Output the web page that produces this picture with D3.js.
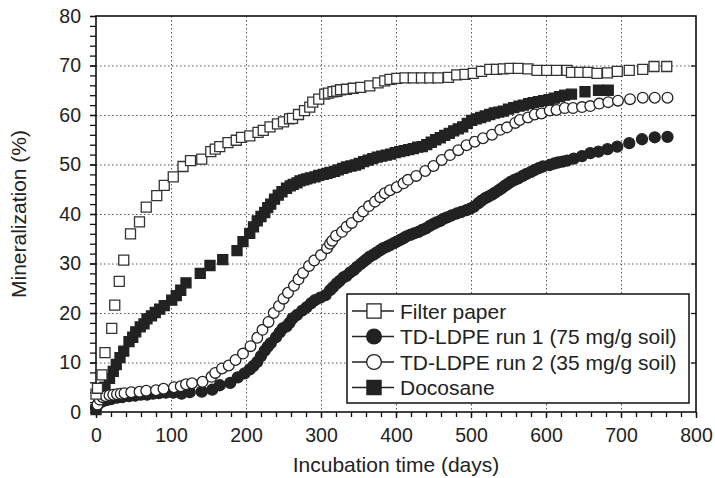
<!DOCTYPE html>
<html><head><meta charset="utf-8">
<script src="https://cdn.jsdelivr.net/npm/d3@7/dist/d3.min.js"></script>
<style>
html,body{margin:0;padding:0;background:#fff;}
text{font-family:"Liberation Sans",Arial,Helvetica,sans-serif;fill:#222;}
</style></head>
<body><svg id="c" width="715" height="478"></svg>
<script>
const xTicks=[0,100,200,300,400,500,600,700,800];
const yTicks=[0,10,20,30,40,50,60,70,80];
const xLabel="Incubation time (days)";
const yLabel="Mineralization (%)";
const seriesNames=["Filter paper","TD-LDPE run 1 (75 mg/g soil)","TD-LDPE run 2 (35 mg/g soil)","Docosane"];

const filterPaper=[[0,3.6],[2,4.8],[8,7.5],[12,12.0],[21,16.9],[25,21.6],[31,26.4],[37,30.7],[46,36],[58,38.4],[67,41.4],[81,43.7],[91,45.8],[103,47.5],[116,49.6],[126,50.8],[141,51.1],[153,52.6],[159,53.1],[165,53.6],[176,54.4],[187,54.9],[194,55.5],[205,55.8],[216,56.5],[223,56.9],[232,57.6],[242,58.2],[250,58.6],[258,59.2],[262,59.3],[270,60.1],[278,60.9],[285,61.6],[289,62.6],[297,63.2],[305,64.2],[310,64.4],[316,64.7],[321,64.8],[326,65.1],[334,65.2],[343,65.4],[353,65.6],[365,65.9],[376,66.5],[385,66.9],[392,67.2],[401,67.4],[412,67.5],[423,67.5],[434,67.5],[445,67.5],[456,67.5],[470,67.6],[481,68.1],[492,68.2],[503,68.4],[514,68.8],[525,69.2],[534,69.2],[543,69.3],[552,69.4],[563,69.4],[576,69.3],[588,69.0],[601,69.0],[614,69.0],[628,69.0],[634,68.6],[645,68.6],[656,68.6],[668,68.4],[682,68.5],[695,68.8],[711,69.0],[729,69.2],[744,69.8],[761,69.8]];

const run1=[[0,0.8],[3,1.6],[8,2.1],[14,2.4],[20,2.6],[28,2.9],[35,3.0],[44,3.2],[52,3.3],[60,3.5],[68,3.5],[76,3.7],[84,3.8],[93,3.9],[103,3.9],[114,3.7],[125,4.0],[141,4.1],[155,4.5],[165,5.4],[179,5.9],[189,7.0],[198,7.8],[205,8.6],[210,9.3],[215,10.1],[220,11.3],[225,12.4],[229,13.2],[233,13.9],[240,15.1],[245,16.1],[249,16.9],[254,17.3],[258,18],[262,18.9],[268,19.6],[275,20.5],[281,21.2],[287,22],[292,22.6],[299,23.1],[306,23.6],[312,24.6],[316,25.2],[321,26],[325,26.5],[330,27.2],[334,27.5],[339,28.2],[344,28.7],[348,29.3],[353,29.9],[357,30.4],[361,30.9],[365,31.4],[370,31.8],[374,32.2],[379,32.7],[383,33.1],[388,33.4],[392,33.7],[397,34.1],[401,34.4],[406,34.8],[410,35.1],[414,35.5],[419,35.8],[424,36.1],[430,36.4],[435,36.8],[440,37.1],[445,37.6],[450,38],[454,38.3],[459,38.6],[463,39],[468,39.3],[474,39.7],[481,40.1],[487,40.4],[494,40.8],[499,41.1],[504,41.5],[510,42.2],[514,42.7],[519,43.2],[523,43.5],[528,43.9],[532,44.3],[537,44.8],[541,45.2],[545,45.7],[549,46.1],[553,46.5],[558,46.9],[563,47.2],[569,47.7],[574,48.1],[580,48.5],[585,48.9],[591,49.3],[596,49.6],[605,49.9],[611,50.2],[616,50.4],[622,50.6],[628,50.8],[637,51.2],[648,51.7],[659,52.3],[670,52.6],[682,53.1],[695,53.6],[711,54.3],[728,55.1],[745,55.5],[762,55.6]];

const run2=[[2,1.5],[5,2.5],[9,3.0],[13,3.2],[18,3.4],[23,3.5],[28,3.6],[33,3.7],[38,3.8],[47,4.0],[58,4.1],[67,4.3],[80,4.4],[90,4.7],[104,5.0],[113,5.2],[120,5.6],[128,5.8],[142,6.1],[154,7.1],[159,7.9],[168,8.8],[177,9.4],[186,10.5],[196,11.8],[206,13.3],[215,15.0],[222,16.6],[230,18.2],[237,20.0],[244,21.4],[250,22.9],[256,24.1],[264,25.5],[270,26.8],[276,28.1],[284,29.5],[291,30.6],[300,31.7],[308,33.1],[312,34.0],[315,34.6],[320,35.6],[328,36.4],[334,37.4],[341,38.2],[350,39.5],[356,40.5],[364,41.6],[372,42.5],[379,43.4],[385,44.2],[392,44.8],[401,45.4],[410,46.2],[416,46.9],[427,47.7],[439,48.7],[450,49.7],[461,50.9],[472,51.9],[483,52.9],[494,53.9],[505,54.6],[516,55.3],[528,56.0],[539,57.0],[548,57.5],[559,58.4],[565,59.0],[576,59.5],[585,60.1],[594,60.3],[605,60.9],[614,61.0],[625,61.4],[636,61.4],[648,61.6],[659,61.8],[671,62.3],[683,62.6],[696,62.9],[712,63.2],[729,63.5],[745,63.5],[762,63.5]];

const docosane=[[0,0.5],[5,3],[12,5],[18,6.8],[23,8.2],[27,9.6],[32,11.0],[37,12.3],[44,14.2],[49,15.1],[53,16.2],[59,17.2],[64,17.8],[68,18.8],[74,19.4],[79,20.1],[85,20.8],[91,21.5],[101,22.6],[107,23.5],[113,24.6],[120,26.1],[139,28],[152,29.6],[169,30.8],[188,32.6],[196,34.4],[205,36.1],[210,37.4],[215,38.6],[220,39.5],[225,40.3],[229,41.3],[233,42],[238,43],[243,43.8],[248,44.5],[254,45.2],[259,45.7],[263,46],[268,46.3],[272,46.7],[277,46.9],[281,47.1],[286,47.3],[292,47.5],[297,47.8],[303,48],[308,48.2],[312,48.4],[318,48.6],[323,48.9],[329,49.2],[334,49.5],[340,49.7],[346,49.9],[351,50.2],[357,50.6],[363,50.9],[369,51.2],[375,51.5],[381,51.7],[387,51.9],[393,52.1],[399,52.4],[405,52.6],[411,52.8],[417,53.0],[423,53.2],[429,53.5],[435,53.6],[441,54.0],[447,54.5],[453,55.0],[459,55.4],[465,55.9],[471,56.3],[477,56.8],[483,57.2],[489,57.6],[495,58.3],[501,58.9],[507,59.2],[513,59.5],[519,59.8],[525,60.1],[531,60.4],[537,60.6],[543,60.8],[550,61.2],[557,61.5],[564,61.8],[570,62.0],[577,62.3],[583,62.5],[590,62.7],[597,62.9],[604,63.1],[611,63.4],[618,63.7],[625,64.0],[634,64.2],[652,64.7],[670,65.0],[683,65.0]];

const svg=d3.select("#c");
const x=d3.scaleLinear().domain([0,800]).range([96,696]);
const y=d3.scaleLinear().domain([0,80]).range([412,16]);

// grid
const grid=svg.append("g").attr("stroke","#555").attr("stroke-width",1).attr("stroke-dasharray","1.5,2.5");
grid.selectAll(".gx").data(xTicks.slice(1,-1)).enter().append("line")
  .attr("x1",d=>x(d)+0.5).attr("x2",d=>x(d)+0.5).attr("y1",y(80)).attr("y2",y(0));
grid.selectAll(".gy").data(yTicks.slice(1,-1)).enter().append("line")
  .attr("y1",d=>y(d)+0.5).attr("y2",d=>y(d)+0.5).attr("x1",x(0)).attr("x2",x(800));

// axes
const fs="19.5px";
function styleAxis(g){g.select(".domain").remove();g.selectAll("line").attr("stroke","#111").attr("stroke-width",1.3);}
const xMinor=d3.range(0,801,20);
svg.append("g").attr("transform",`translate(0,${y(0)})`)
  .call(d3.axisBottom(x).tickValues(xMinor).tickSize(5).tickFormat("")).call(styleAxis);
const xa=svg.append("g").attr("transform",`translate(0,${y(0)})`)
  .call(d3.axisBottom(x).tickValues(xTicks).tickSize(6).tickPadding(10).tickFormat(d3.format("d"))).call(styleAxis);
xa.selectAll("text").style("font-size",fs).attr("fill","#222");
const yMinor=d3.range(0,81,2);
svg.append("g").attr("transform",`translate(${x(0)},0)`)
  .call(d3.axisLeft(y).tickValues(yMinor).tickSize(6).tickFormat("")).call(styleAxis);
const ya=svg.append("g").attr("transform",`translate(${x(0)},0)`)
  .call(d3.axisLeft(y).tickValues(yTicks).tickSize(6).tickPadding(9).tickFormat(d3.format("d"))).call(styleAxis);
ya.selectAll("text").style("font-size",fs).attr("fill","#222");
svg.append("g").attr("transform",`translate(${x(800)},0)`)
  .call(d3.axisLeft(y).tickValues(yTicks.slice(1,-1)).tickSize(5).tickFormat("")).call(styleAxis);

// frame
svg.append("rect").attr("x",x(0)).attr("y",y(80)).attr("width",x(800)-x(0)).attr("height",y(0)-y(80))
  .attr("fill","none").attr("stroke","#111").attr("stroke-width",1.6);

// series
const sym=(type,size)=>d3.symbol().type(type).size(size)();
const plot=svg.append("g");
function drawSeries(data,type,size,fill,stroke){
  plot.append("g").selectAll("path").data(data).enter().append("path")
    .attr("transform",d=>`translate(${x(d[0])},${y(d[1])})`)
    .attr("d",sym(type,size)).attr("fill",fill).attr("stroke",stroke).attr("stroke-width",1.3);
}
drawSeries(docosane,d3.symbolSquare,100,"#222","#222");
drawSeries(run1,d3.symbolCircle,95,"#222","#222");
drawSeries(run2,d3.symbolCircle,90,"#fff","#222");
drawSeries(filterPaper,d3.symbolSquare,100,"#fff","#333");

// legend
const lg=svg.append("g");
lg.append("rect").attr("x",347).attr("y",294).attr("width",342).attr("height",109)
  .attr("fill","#fff").attr("stroke","#111").attr("stroke-width",1.5);
const legendItems=[
  {name:seriesNames[0],type:d3.symbolSquare,fill:"#fff"},
  {name:seriesNames[1],type:d3.symbolCircle,fill:"#222"},
  {name:seriesNames[2],type:d3.symbolCircle,fill:"#fff"},
  {name:seriesNames[3],type:d3.symbolSquare,fill:"#222"}];
legendItems.forEach((it,i)=>{
  const cy=311+i*25.5;
  lg.append("line").attr("x1",352).attr("x2",394).attr("y1",cy).attr("y2",cy).attr("stroke","#222").attr("stroke-width",1.3);
  lg.append("path").attr("transform",`translate(374,${cy})`).attr("d",sym(it.type,it.type===d3.symbolSquare?200:170))
    .attr("fill",it.fill).attr("stroke","#222").attr("stroke-width",1.3);
  lg.append("text").attr("x",400).attr("y",cy).attr("dy","0.36em").style("font-size","21px").text(it.name);
});

// axis titles
svg.append("text").attr("x",(x(0)+x(800))/2).attr("y",472).attr("text-anchor","middle").style("font-size","21px").text(xLabel);
svg.append("text").attr("transform",`translate(26,${(y(0)+y(80))/2}) rotate(-90)`).attr("text-anchor","middle").style("font-size","21px").text(yLabel);
</script></body></html>
